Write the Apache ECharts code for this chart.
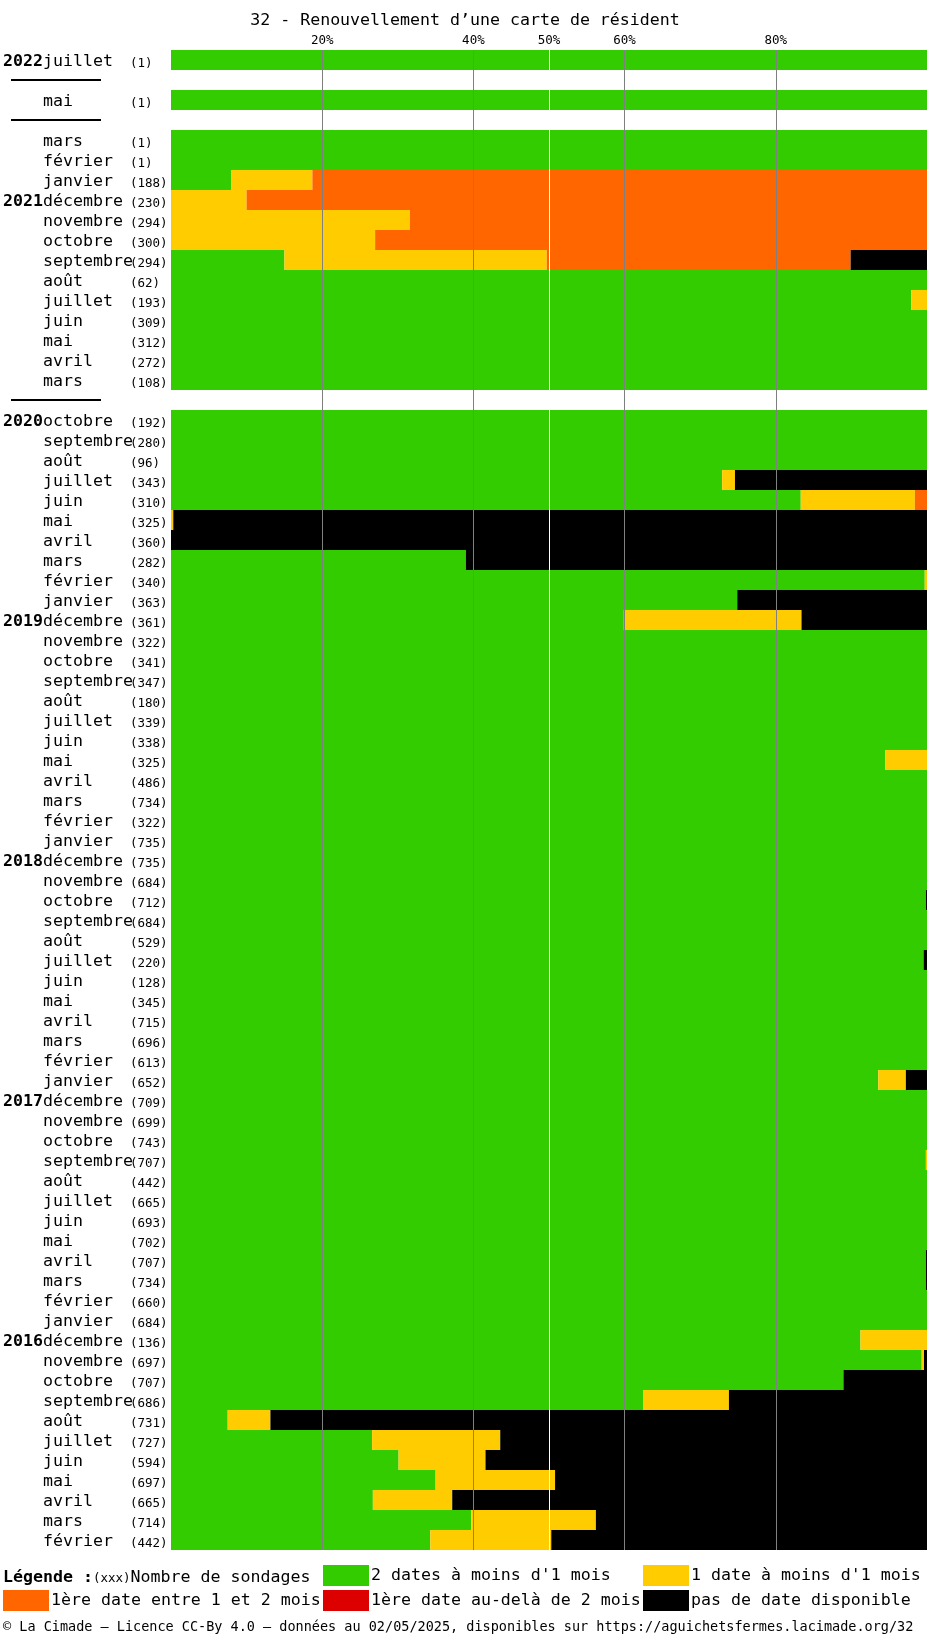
<!DOCTYPE html>
<html><head><meta charset="utf-8">
<script src="https://cdn.jsdelivr.net/npm/echarts@6/dist/echarts.min.js"></script>
<style>html,body{margin:0;padding:0;background:#fff}#c{width:930px;height:1635px}</style>
</head><body><div id="c"></div>
<script>
const SEP = '—';
const FONT = 'DejaVu Sans Mono';

const years = [
 '2022','','','','','','','2021','','',
 '','','','','','','','','2020','',
 '','','','','','','','','2019','',
 '','','','','','','','','','',
 '2018','','','','','','','','','',
 '','','2017','','','','','','','',
 '','','','','2016','','','','','',
 '','','','',''
];
const months = [
 'juillet',SEP,'mai',SEP,'mars','février','janvier','décembre','novembre','octobre',
 'septembre','août','juillet','juin','mai','avril','mars',SEP,'octobre','septembre',
 'août','juillet','juin','mai','avril','mars','février','janvier','décembre','novembre',
 'octobre','septembre','août','juillet','juin','mai','avril','mars','février','janvier',
 'décembre','novembre','octobre','septembre','août','juillet','juin','mai','avril','mars',
 'février','janvier','décembre','novembre','octobre','septembre','août','juillet','juin','mai',
 'avril','mars','février','janvier','décembre','novembre','octobre','septembre','août','juillet',
 'juin','mai','avril','mars','février'
];
const counts = [
 1,null,1,null,1,1,188,230,294,300,
 294,62,193,309,312,272,108,null,192,280,
 96,343,310,325,360,282,340,363,361,322,
 341,347,180,339,338,325,486,734,322,735,
 735,684,712,684,529,220,128,345,715,696,
 613,652,709,699,743,707,442,665,693,702,
 707,734,660,684,136,697,707,686,731,727,
 594,697,665,714,442
];

// percentages per row
const green = [
 100,null,100,null,100,100,8.0,0,0,0,
 15.0,100,97.9,100,100,100,100,null,100,100,
 100,72.9,83.3,0,0,39.0,99.7,74.9,59.9,100,
 100,100,100,100,100,94.5,100,100,100,100,
 100,100,99.85,100,100,99.55,100,100,100,100,
 100,93.55,100,100,100,99.85,100,100,100,100,
 99.85,99.85,100,100,91.2,99.3,88.95,62.5,7.5,26.6,
 30.1,35.0,26.7,39.7,34.3
];
const yellow = [
 0,null,0,null,0,0,10.7,10.0,31.6,27.0,
 34.7,0,2.1,0,0,0,0,null,0,0,
 0,1.7,15.1,0.3,0,0,0.3,0,23.5,0,
 0,0,0,0,0,5.5,0,0,0,0,
 0,0,0,0,0,0,0,0,0,0,
 0,3.65,0,0,0,0.15,0,0,0,0,
 0,0,0,0,8.8,0.3,0,11.3,5.65,16.95,
 11.5,15.8,10.5,16.5,16.0
];
const orange = [
 0,null,0,null,0,0,81.3,90.0,68.4,73.0,
 40.2,0,0,0,0,0,0,null,0,0,
 0,0,1.6,0,0,0,0,0,0,0,
 0,0,0,0,0,0,0,0,0,0,
 0,0,0,0,0,0,0,0,0,0,
 0,0,0,0,0,0,0,0,0,0,
 0,0,0,0,0,0,0,0,0,0,
 0,0,0,0,0
];
const red = [
 0,null,0,null,0,0,0,0,0,0,
 0,0,0,0,0,0,0,null,0,0,
 0,0,0,0,0,0,0,0,0,0,
 0,0,0,0,0,0,0,0,0,0,
 0,0,0,0,0,0,0,0,0,0,
 0,0,0,0,0,0,0,0,0,0,
 0,0,0,0,0,0,0,0,0,0,
 0,0,0,0,0
];
const black = [
 0,null,0,null,0,0,0,0,0,0,
 10.1,0,0,0,0,0,0,null,0,0,
 0,25.4,0,99.7,100,61.0,0,25.1,16.6,0,
 0,0,0,0,0,0,0,0,0,0,
 0,0,0.15,0,0,0.45,0,0,0,0,
 0,2.8,0,0,0,0,0,0,0,0,
 0.15,0.15,0,0,0,0.4,11.05,26.2,86.85,56.45,
 58.4,49.2,62.8,43.8,49.7
];

const seriesNames = ['2 dates à moins d\'1 mois','1 date à moins d\'1 mois','1ère date entre 1 et 2 mois','1ère date au-delà de 2 mois','pas de date disponible'];
const seriesColors = ['#33cc00','#ffcc00','#ff6600','#dd0000','#000000'];
const seriesData = [green, yellow, orange, red, black];

const xTickLabels = [20,40,50,60,80];
const grayTicks = [20,40,60,80];
const whiteTicks = [50];

const rowKeys = months.map((m,i)=> i + ':' + m);
const splitColors = [];
for (let v = 0; v <= 100; v += 10) {
  splitColors.push(grayTicks.includes(v) ? '#808080' : (whiteTicks.includes(v) ? '#ffffff' : 'rgba(0,0,0,0)'));
}

const chart = echarts.init(document.getElementById('c'), null, {renderer:'canvas'});

const legendPos = [
  {left:323, top:1565},
  {left:643, top:1565},
  {left:3, top:1590},
  {left:323, top:1590},
  {left:643, top:1590}
];

const option = {
  animation: false,
  backgroundColor: '#fff',
  textStyle: {fontFamily: FONT},
  title: [
    {text: '32 - Renouvellement d’une carte de résident', left:'center', top:12, padding:0,
     textStyle:{fontFamily:FONT, fontSize:16.6, fontWeight:'normal', color:'#000'}},
    {text: '{b|Légende :}{s|(xxx)}{n|Nombre de sondages}', left:3, top:1569, padding:0,
     textStyle:{fontFamily:FONT, fontWeight:'normal', color:'#000', rich:{
       b:{fontFamily:FONT, fontSize:16.6, fontWeight:'bold', color:'#000'},
       s:{fontFamily:FONT, fontSize:12.5, fontWeight:'normal', color:'#000', padding:[3,0,0,0]},
       n:{fontFamily:FONT, fontSize:16.6, fontWeight:'normal', color:'#000'}
     }}},
    {text: '© La Cimade – Licence CC-By 4.0 – données au 02/05/2025, disponibles sur https://aguichetsfermes.lacimade.org/32',
     left:3, top:1620, padding:0,
     textStyle:{fontFamily:FONT, fontSize:13.5, fontWeight:'normal', color:'#000'}}
  ],
  legend: seriesNames.map((n,i)=>({
    data:[n], left:legendPos[i].left, top:legendPos[i].top, padding:0,
    itemWidth:46, itemHeight:21, icon:'rect', selectedMode:false,
    textStyle:{fontFamily:FONT, fontSize:16.6, color:'#000', padding:[4,0,0,-3]}
  })),
  grid: {left:170, right:0, top:50, height:1500, containLabel:false},
  xAxis: {
    type:'value', min:0, max:100, interval:10, position:'top', z:10,
    axisLine:{show:false}, axisTick:{show:false},
    axisLabel:{margin:3, fontFamily:FONT, fontSize:12.5, color:'#000',
      formatter:(v)=> xTickLabels.includes(v) ? v + '%' : ''},
    splitLine:{show:true, lineStyle:{color:splitColors, width:1}}
  },
  yAxis: {
    type:'category', inverse:true, data: rowKeys,
    axisLine:{show:false}, axisTick:{show:false}, splitLine:{show:false},
    axisLabel:{
      interval:0, align:'left', margin:168,
      formatter:(v,i)=>{
        if (months[i] === SEP) return '{sp|}{sep|}';
        return '{y|' + years[i] + '}{m|' + months[i] + '}{c|(' + counts[i] + ')}';
      },
      rich:{
        y:{fontFamily:FONT, fontSize:16.6, fontWeight:'bold', width:40, color:'#000', padding:[4,0,0,0]},
        m:{fontFamily:FONT, fontSize:16.6, width:87, color:'#000', padding:[4,0,0,0]},
        c:{fontFamily:FONT, fontSize:12.5, color:'#000', padding:[7,0,0,0]},
        sp:{width:8},
        sep:{width:90, height:2, backgroundColor:'#000'}
      }
    }
  },
  series: seriesNames.map((n,i)=>({
    name:n, type:'bar', stack:'total', barCategoryGap:'0%', barWidth:'100%',
    itemStyle:{color:seriesColors[i]},
    emphasis:{disabled:true},
    data: seriesData[i]
  }))
};
chart.setOption(option);
</script>
</body></html>
